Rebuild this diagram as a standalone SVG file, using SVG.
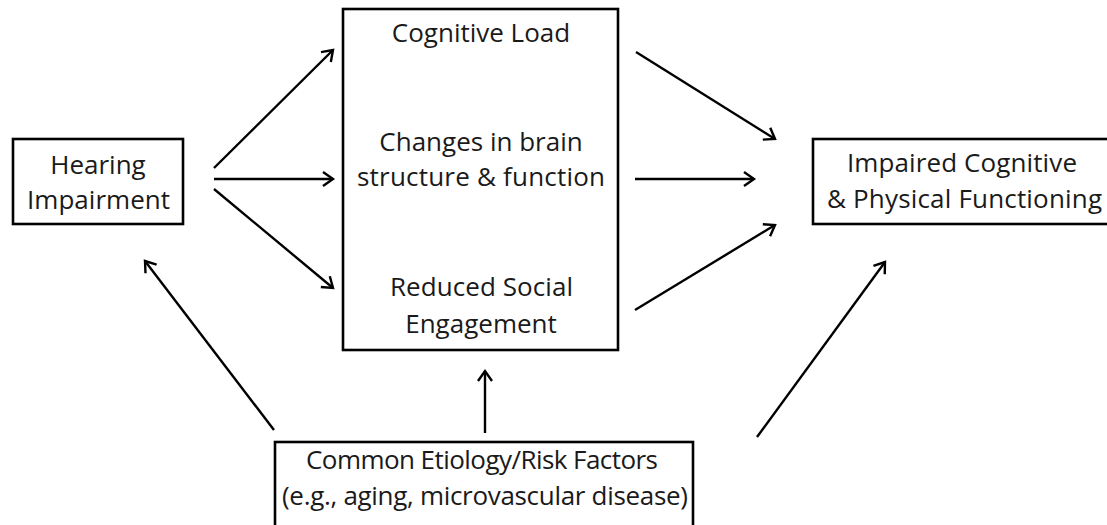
<svg xmlns="http://www.w3.org/2000/svg" width="1107" height="525" viewBox="0 0 1107 525">
<style>
.box{fill:#fff;stroke:#000;stroke-width:2.6}
.t{font-family:"Open Sans","Liberation Sans",sans-serif;font-size:26px;fill:#1a1a1a;text-anchor:middle}
.c{stroke:#000;stroke-width:2.4;fill:none;marker-end:url(#ah)}
</style>
<defs>
<marker id="ah" markerUnits="userSpaceOnUse" markerWidth="16" markerHeight="18" refX="11" refY="8" orient="auto" overflow="visible">
<path d="M1,1 L11,8 L1,15" fill="none" stroke="#000" stroke-width="2.4" stroke-linejoin="miter"/>
</marker>
</defs>
<rect width="1107" height="525" fill="#fff"/>
<g id="hearing">
<rect class="box" x="13" y="139" width="170" height="85"/>
<text class="t" x="98" y="174">Hearing</text>
<text class="t" x="98.5" y="209" textLength="143">Impairment</text>
</g>
<g id="mediators">
<rect class="box" x="343" y="9" width="275" height="341"/>
<text class="t" x="481" y="42">Cognitive Load</text>
<text class="t" x="481" y="151">Changes in brain</text>
<text class="t" x="481" y="186" textLength="248">structure &amp; function</text>
<text class="t" x="481.5" y="296" textLength="183">Reduced Social</text>
<text class="t" x="481" y="333">Engagement</text>
</g>
<g id="outcome">
<rect class="box" x="813" y="139" width="300" height="85"/>
<text class="t" x="962" y="172" textLength="230">Impaired Cognitive</text>
<text class="t" x="964.5" y="208" textLength="275">&amp; Physical Functioning</text>
</g>
<g id="etiology">
<rect class="box" x="275" y="442" width="418" height="90"/>
<text class="t" x="482" y="469" textLength="352">Common Etiology/Risk Factors</text>
<text class="t" x="485" y="505" textLength="406">(e.g., aging, microvascular disease)</text>
</g>
<g id="connectors">
<line class="c" x1="214" y1="168" x2="333" y2="50"/>
<line class="c" x1="214" y1="179" x2="333" y2="179"/>
<line class="c" x1="214" y1="189" x2="333" y2="288"/>
<line class="c" x1="636" y1="52" x2="775" y2="139"/>
<line class="c" x1="635" y1="179" x2="754" y2="179"/>
<line class="c" x1="635" y1="310" x2="775" y2="225"/>
<line class="c" x1="274" y1="430" x2="145" y2="261"/>
<line class="c" x1="485" y1="433" x2="485" y2="371"/>
<line class="c" x1="757" y1="437" x2="885" y2="262"/>
</g>
</svg>
